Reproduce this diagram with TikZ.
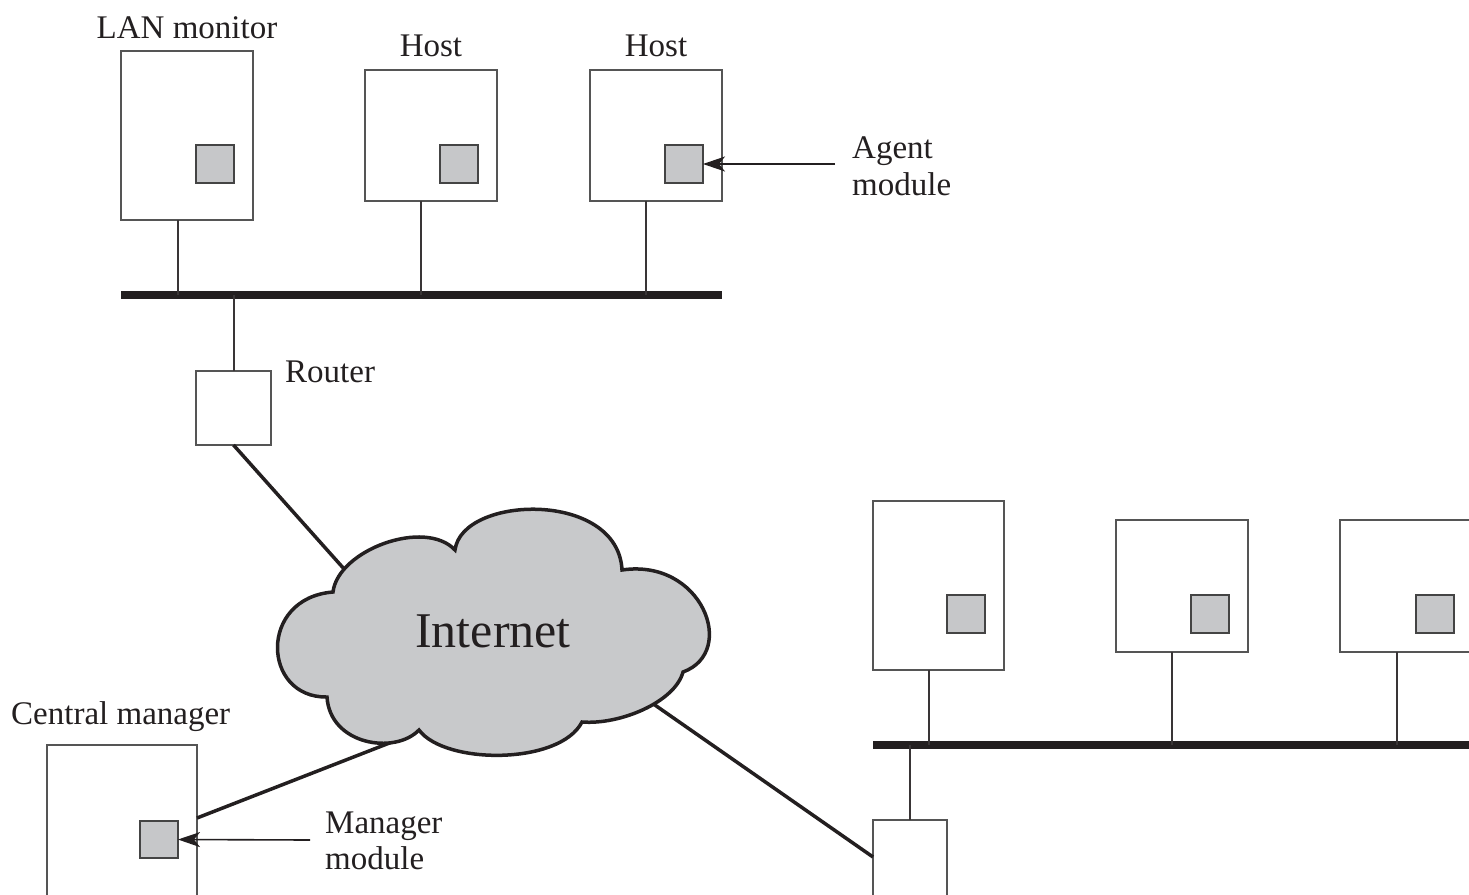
\documentclass[tikz,border=0pt]{standalone}
\usepackage{fontspec}
\setmainfont{Liberation Serif}
\usetikzlibrary{arrows.meta,calc}
\definecolor{ink}{HTML}{231F20}
\definecolor{boxline}{HTML}{555555}
\definecolor{modfill}{HTML}{C6C7C9}
\definecolor{cloudfill}{HTML}{C8C9CB}
\begin{document}
\begin{tikzpicture}[x=1pt,y=-1pt,
  lbl/.style={font=\fontsize{33}{38}\selectfont, text=ink, inner sep=0pt, anchor=base west},
  device/.style={draw=boxline, line width=2pt, fill=white, inner sep=0pt, outer sep=0pt},
  module/.style={draw=boxline!80!black, line width=2pt, fill=modfill, inner sep=0pt, outer sep=0pt, minimum width=38pt, minimum height=38pt},
  drop/.style={draw=ink!90, line width=2pt},
  bus/.style={draw=ink, line width=8pt},
  link/.style={draw=ink, line width=3.5pt},
  pointer/.style={draw=ink, line width=1.6pt, -{Stealth[length=22pt,width=15pt,inset=6pt]}},
]
\useasboundingbox (0,0) rectangle (1469,894);
\clip (0,0) rectangle (1469,894);

% ---------- upper LAN ----------
\node[device, minimum width=132pt, minimum height=169pt] (lan) at (187,135.5) {};
\node[device, minimum width=132pt, minimum height=131pt] (h1) at (431,135.5) {};
\node[device, minimum width=132pt, minimum height=131pt] (h2) at (656,135.5) {};
\node[module] (m1) at (215,164) {};
\node[module] (m2) at (459,164) {};
\node[module] (m3) at (684,164) {};

\node[lbl, anchor=base] (lanlbl) at (187,38) {LAN monitor};
\node[lbl, anchor=base] (h1lbl) at (431,56) {Host};
\node[lbl, anchor=base] (h2lbl) at (656,56) {Host};
\node[lbl] (agent1) at (852,158) {Agent};
\node[lbl] (agent2) at (852,195) {module};

\coordinate (busL) at (121,295);
\coordinate (busR) at (722,295);
\draw[bus] (busL) -- (busR);
\draw[drop] ([xshift=-9pt]lan.south) -- ([xshift=-9pt]lan.south |- busL);
\draw[drop] ([xshift=-10pt]h1.south) -- ([xshift=-10pt]h1.south |- busL);
\draw[drop] ([xshift=-10pt]h2.south) -- ([xshift=-10pt]h2.south |- busL);

\coordinate (agentTail) at (835,164);
\draw[pointer] (agentTail) -- (m3.east);

% router 1
\node[device, minimum width=75pt, minimum height=74pt] (r1) at (233.5,408) {};
\draw[drop] (r1.north) -- (r1.north |- busL);
\node[lbl] (rlbl) at (285,382) {Router};

% ---------- lower right LAN ----------
\node[device, minimum width=131pt, minimum height=169pt] (ra) at (938.5,585.5) {};
\node[device, minimum width=132pt, minimum height=132pt] (rb) at (1182,586) {};
\node[device, minimum width=132pt, minimum height=132pt] (rc) at (1406,586) {};
\node[module] (ma) at (966,614) {};
\node[module] (mb) at (1210,614) {};
\node[module] (mc) at (1435,614) {};

\coordinate (bus2L) at (873,745);
\coordinate (bus2R) at (1475,745);
\draw[bus] (bus2L) -- (bus2R);
\draw[drop] ([xshift=-9.5pt]ra.south) -- ([xshift=-9.5pt]ra.south |- bus2L);
\draw[drop] ([xshift=-10pt]rb.south) -- ([xshift=-10pt]rb.south |- bus2L);
\draw[drop] ([xshift=-9pt]rc.south) -- ([xshift=-9pt]rc.south |- bus2L);

\node[device, minimum width=74pt, minimum height=140pt] (r2) at (910,890) {};
\draw[drop] (r2.north) -- (r2.north |- bus2L);

% ---------- central manager ----------
\node[device, minimum width=150pt, minimum height=215pt] (cm) at (122,852.5) {};
\node[module, minimum height=37pt] (mm) at (159,839.5) {};
\node[lbl] (cmlbl) at (11,724) {Central manager};
\node[lbl] (mg1) at (325,833) {Manager};
\node[lbl] (mg2) at (325,869) {module};
\coordinate (mgTail) at (310,840);
\draw[pointer] (mgTail) -- (mm.east);

% ---------- links to the cloud ----------
\coordinate (c1) at (345,570);
\coordinate (c2) at (392,742);
\coordinate (c3) at (652,703);
\draw[link] (r1.south) -- (c1);
\draw[link] ([yshift=34.5pt]cm.east) -- (c2);
\draw[link] (c3) -- ([yshift=33pt]r2.west);

% ---------- cloud ----------
\draw[draw=ink, line width=3.5pt, fill=cloudfill, line join=miter]
  (333,592) .. controls (338,550) and (425,518) .. (455,550)
  .. controls (462,495) and (618,490) .. (622,570)
  .. controls (702,558) and (738,652) .. (683,672)
  .. controls (675,702) and (620,725) .. (582,722)
  .. controls (560,765) and (445,765) .. (419,730)
  .. controls (395,755) and (330,745) .. (327,697)
  .. controls (262,698) and (258,598) .. cycle;
\node[font=\fontsize{50}{56}\selectfont, text=ink, inner sep=0pt, anchor=base] (inet) at (493,647) {Internet};
\end{tikzpicture}
\end{document}
